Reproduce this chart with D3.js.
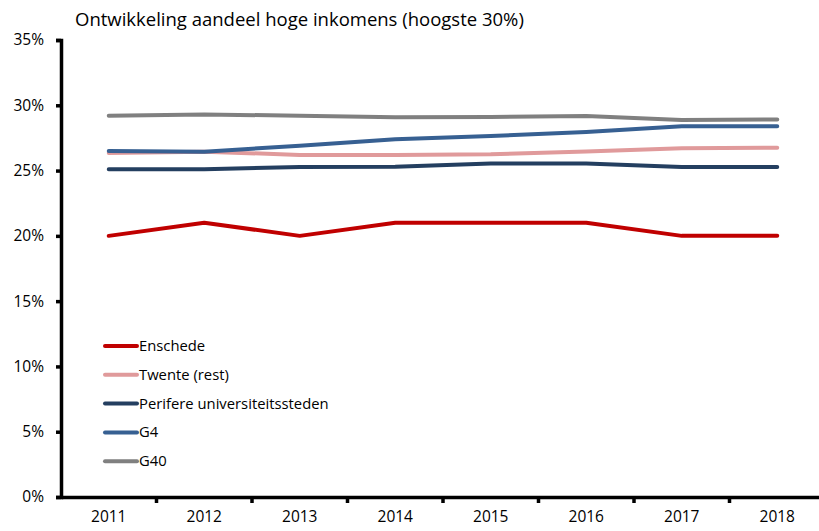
<!DOCTYPE html>
<html>
<head>
<meta charset="utf-8">
<script src="https://cdn.jsdelivr.net/npm/d3@7"></script>
<style>
  body { margin: 0; background: #fff; }
  svg { display: block; font-family: "Open Sans", "Liberation Sans", sans-serif; }
</style>
</head>
<body>
<div id="chart"></div>
<script>
const years = ["2011","2012","2013","2014","2015","2016","2017","2018"];
const yTicks = [0, 5, 10, 15, 20, 25, 30, 35];

const enschede  = [20, 21, 20, 21, 21, 21, 20, 20];
const twente    = [26.35, 26.45, 26.2, 26.2, 26.25, 26.47, 26.7, 26.75];
const perifere  = [25.1, 25.1, 25.27, 25.3, 25.55, 25.55, 25.27, 25.27];
const g4        = [26.5, 26.45, 26.9, 27.4, 27.65, 27.95, 28.4, 28.4];
const g40       = [29.2, 29.3, 29.2, 29.08, 29.1, 29.18, 28.87, 28.92];

const seriesNames  = ["Enschede", "Twente (rest)", "Perifere universiteitssteden", "G4", "G40"];
const seriesValues = [enschede, twente, perifere, g4, g40];
const seriesColors = ["#C00000", "#E09A9B", "#243F60", "#376092", "#808080"];

const W = 819, H = 531;
const svg = d3.select("#chart").append("svg").attr("width", W).attr("height", H);

const mLeft = 61, mRight = 825, mTop = 40, mBottom = 497;

const x = d3.scaleBand().domain(years).range([mLeft, mRight]);
const y = d3.scaleLinear().domain([0, 35]).range([mBottom, mTop]);

// title
svg.append("text")
    .attr("x", 75).attr("y", 26)
    .attr("font-size", 18.5)
    .attr("fill", "#000")
    .text("Ontwikkeling aandeel hoge inkomens (hoogste 30%)");

// y axis
const yAxis = svg.append("g")
    .attr("transform", `translate(${mLeft},0)`)
    .call(d3.axisLeft(y).tickValues(yTicks).tickFormat(d => d + "%").tickSizeOuter(0).tickSize(5).tickPadding(12));
yAxis.select(".domain").attr("stroke-width", 3.5).attr("stroke", "#000");
yAxis.selectAll(".tick line").attr("stroke-width", 3.5).attr("stroke", "#000");
yAxis.selectAll("text").attr("font-size", 15.5).attr("fill", "#000")
    .attr("font-family", "\"Open Sans\", \"Liberation Sans\", sans-serif");

// x axis
const xAxis = svg.append("g")
    .attr("transform", `translate(0,${mBottom})`)
    .call(d3.axisBottom(x).tickSize(0).tickPadding(14));
xAxis.select(".domain").attr("stroke-width", 3.5).attr("stroke", "#000");
xAxis.selectAll("text").attr("font-size", 15.5).attr("fill", "#000")
    .attr("font-family", "\"Open Sans\", \"Liberation Sans\", sans-serif");

// tick marks between categories
xAxis.selectAll(".sep")
    .data(years.slice(1))
    .join("line")
    .attr("class", "sep")
    .attr("x1", d => x(d)).attr("x2", d => x(d))
    .attr("y1", 0).attr("y2", 6)
    .attr("stroke", "#000").attr("stroke-width", 3.5);

// lines
const line = d3.line()
    .x((d, i) => x(years[i]) + x.bandwidth() / 2)
    .y(d => y(d));

svg.selectAll(".serie")
    .data(seriesValues)
    .join("path")
    .attr("class", "serie")
    .attr("fill", "none")
    .attr("stroke", (d, i) => seriesColors[i])
    .attr("stroke-width", 4)
    .attr("stroke-linecap", "round")
    .attr("stroke-linejoin", "round")
    .attr("d", line);

// legend
const legend = svg.append("g").attr("transform", "translate(105,346)");
const items = legend.selectAll("g")
    .data(seriesNames)
    .join("g")
    .attr("transform", (d, i) => `translate(0,${i * 28.8})`);
items.append("line")
    .attr("x1", 0).attr("x2", 32)
    .attr("stroke", (d, i) => seriesColors[i])
    .attr("stroke-width", 4)
    .attr("stroke-linecap", "round");
items.append("text")
    .attr("x", 34).attr("y", 5)
    .attr("font-size", 14.8)
    .attr("fill", "#000")
    .text(d => d);
</script>
</body>
</html>
